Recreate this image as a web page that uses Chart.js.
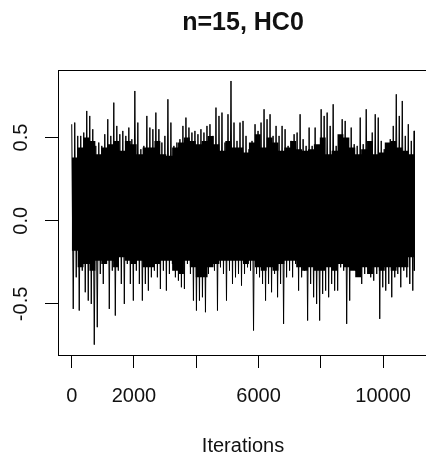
<!DOCTYPE html>
<html>
<head>
<meta charset="utf-8">
<script src="https://cdn.jsdelivr.net/npm/chart.js@4/dist/chart.umd.min.js"></script>
<style>
  html, body { margin: 0; padding: 0; background: #fff; overflow: hidden; }
  #wrap { width: 440px; height: 458px; }
</style>
</head>
<body>
<div id="wrap"><canvas id="traceChart" width="440" height="458"></canvas></div>
<script>
// Trace plot (11000 iterations) - extremes read per ~96-iteration column
const chartTitle = 'n=15, HC0';
const xTitle = 'Iterations';
const nIter = 11000;

const upperPeaks = [
    0.58, 0.59, 0.51, 0.51, 0.53, 0.66, 0.63, 0.55, 0.45, 0.47, 0.45, 0.52, 0.61, 0.51, 0.71, 0.57, 0.52, 0.54, 0.51, 0.56, 0.49, 0.78, 0.59, 0.43, 0.45, 0.63, 0.56, 0.55,
    0.65, 0.55, 0.47, 0.51, 0.73, 0.59, 0.45, 0.47, 0.49, 0.57, 0.62, 0.56, 0.53, 0.54, 0.52, 0.55, 0.53, 0.57, 0.58, 0.51, 0.68, 0.63, 0.65, 0.47, 0.64, 0.84, 0.59, 0.48, 0.59, 0.60,
    0.51, 0.43, 0.48, 0.58, 0.54, 0.59, 0.67, 0.61, 0.64, 0.51, 0.57, 0.51, 0.57, 0.55, 0.45, 0.48, 0.52, 0.53, 0.64, 0.49, 0.45, 0.56, 0.45, 0.56, 0.45, 0.67, 0.63, 0.65, 0.57,
    0.70, 0.45, 0.49, 0.61, 0.60, 0.47, 0.56, 0.46, 0.45, 0.62, 0.46, 0.67, 0.45, 0.53, 0.64, 0.62, 0.48, 0.43, 0.43, 0.49, 0.57, 0.76, 0.63, 0.72, 0.51, 0.58, 0.48, 0.54
];
const lowerPeaks = [
    -0.53, -0.34, -0.54, -0.30, -0.43, -0.48, -0.50, -0.745, -0.64, -0.32, -0.38, -0.26, -0.53, -0.30, -0.57, -0.30, -0.38, -0.50, -0.26, -0.38, -0.48, -0.30, -0.38, -0.48, -0.38, -0.42, -0.34, -0.30,
    -0.34, -0.41, -0.30, -0.42, -0.32, -0.26, -0.34, -0.36, -0.40, -0.41, -0.26, -0.32, -0.48, -0.54, -0.48, -0.46, -0.55, -0.32, -0.26, -0.30, -0.54, -0.28, -0.32, -0.48, -0.30, -0.38, -0.34, -0.32, -0.39, -0.32,
    -0.28, -0.30, -0.66, -0.32, -0.34, -0.38, -0.48, -0.38, -0.43, -0.32, -0.46, -0.38, -0.62, -0.34, -0.30, -0.34, -0.26, -0.42, -0.34, -0.30, -0.60, -0.38, -0.46, -0.50, -0.60, -0.44, -0.42, -0.46, -0.38,
    -0.42, -0.42, -0.28, -0.30, -0.62, -0.48, -0.28, -0.30, -0.30, -0.38, -0.32, -0.26, -0.34, -0.36, -0.32, -0.59, -0.40, -0.42, -0.38, -0.46, -0.34, -0.32, -0.40, -0.30, -0.34, -0.38, -0.42, -0.30
];
// solid skyline of the band, one value per ~190 iterations
const coreTop = [
    0.38, 0.44, 0.50, 0.48, 0.40, 0.44, 0.46, 0.48, 0.42, 0.48, 0.46, 0.40, 0.44, 0.44,
    0.48, 0.40, 0.39, 0.44, 0.47, 0.50, 0.48, 0.46, 0.48, 0.51, 0.46, 0.42, 0.48, 0.44, 0.44,
    0.41, 0.47, 0.52, 0.44, 0.50, 0.47, 0.42, 0.44, 0.48, 0.43, 0.42, 0.43, 0.46, 0.50,
    0.40, 0.42, 0.52, 0.50, 0.44, 0.40, 0.43, 0.48, 0.40, 0.41, 0.47, 0.48, 0.44, 0.42, 0.40
];
const coreBottom = [
    -0.18, -0.28, -0.26, -0.30, -0.24, -0.26, -0.24, -0.28, -0.22, -0.24, -0.26, -0.24, -0.28, -0.28,
    -0.26, -0.24, -0.24, -0.30, -0.32, -0.24, -0.28, -0.34, -0.34, -0.28, -0.26, -0.24, -0.24, -0.24, -0.24,
    -0.26, -0.24, -0.28, -0.30, -0.28, -0.30, -0.26, -0.24, -0.24, -0.28, -0.30, -0.28, -0.30, -0.30,
    -0.28, -0.30, -0.26, -0.28, -0.30, -0.34, -0.28, -0.32, -0.28, -0.30, -0.28, -0.30, -0.28, -0.28, -0.22
];

const xTickValues = [0, 2000, 4000, 6000, 8000, 10000];
const xTickLabels = ['0', '2000', '', '6000', '', '10000'];
const yTickValues = [-0.5, 0, 0.5];
const yTickLabels = ['-0.5', '0.0', '0.5'];

// build points
const step = (nIter - 1) / (upperPeaks.length - 1);
const tracePoints = [];
upperPeaks.forEach((v, i) => {
    const it = 1 + i * step;
    tracePoints.push({ x: it, y: v });
    tracePoints.push({ x: Math.min(nIter, it + step / 2), y: lowerPeaks[i] });
});
const coreStep = (nIter - 1) / coreTop.length;
function stepPoints(arr) {
    const pts = arr.map((v, i) => ({ x: 1 + i * coreStep, y: v }));
    pts.push({ x: nIter, y: arr[arr.length - 1] });
    return pts;
}
const coreTopPts = stepPoints(coreTop);
const coreBotPts = stepPoints(coreBottom);

const FONT = '"Liberation Sans", Arial, sans-serif';

// R style box, labels and titles
const rStylePlugin = {
    id: 'rStyle',
    afterDraw(chart) {
        const ctx = chart.ctx;
        const area = chart.chartArea;
        const xs = chart.scales.x;
        const ys = chart.scales.y;
        ctx.save();
        ctx.strokeStyle = '#000';
        ctx.lineWidth = 1;
        ctx.strokeRect(Math.round(area.left) + 0.5, Math.round(area.top) + 0.5,
            Math.round(area.right - area.left), Math.round(area.bottom - area.top));

        ctx.fillStyle = '#111';
        ctx.font = '20px ' + FONT;
        ctx.textAlign = 'center';
        ctx.textBaseline = 'alphabetic';
        xTickValues.forEach((v, i) => {
            if (xTickLabels[i]) ctx.fillText(xTickLabels[i], xs.getPixelForValue(v), 402);
        });
        yTickValues.forEach((v, i) => {
            ctx.save();
            ctx.translate(27, ys.getPixelForValue(v));
            ctx.rotate(-Math.PI / 2);
            ctx.fillText(yTickLabels[i], 0, 0);
            ctx.restore();
        });
        const cx = (area.left + area.right) / 2;
        ctx.fillText(xTitle, cx, 452);
        ctx.font = 'bold 25px ' + FONT;
        ctx.fillText(chartTitle, cx, 30);
        ctx.restore();
    }
};

const ctx = document.getElementById('traceChart').getContext('2d');
new Chart(ctx, {
    type: 'line',
    data: {
        datasets: [
            {
                data: tracePoints,
                borderColor: '#000',
                borderWidth: 1,
                pointRadius: 0,
                tension: 0,
                fill: false,
                order: 0
            },
            {
                data: coreTopPts,
                stepped: 'before',
                borderWidth: 0,
                borderColor: 'rgba(0,0,0,0)',
                backgroundColor: '#000',
                pointRadius: 0,
                fill: '+1',
                order: 1
            },
            {
                data: coreBotPts,
                stepped: 'before',
                borderWidth: 0,
                borderColor: 'rgba(0,0,0,0)',
                pointRadius: 0,
                fill: false,
                order: 2
            }
        ]
    },
    options: {
        responsive: false,
        devicePixelRatio: 1,
        animation: false,
        layout: { padding: { top: 70, right: 12, left: 0, bottom: 0 } },
        plugins: {
            legend: { display: false },
            tooltip: { enabled: false },
            filler: { propagate: false }
        },
        scales: {
            x: {
                type: 'linear',
                min: -440,
                max: 11440,
                border: { display: false },
                grid: { drawOnChartArea: false, drawTicks: true, tickLength: 13, color: '#000', lineWidth: 1 },
                ticks: { display: false },
                afterBuildTicks: (scale) => { scale.ticks = xTickValues.map(v => ({ value: v })); },
                afterFit: (scale) => { scale.height = 103; }
            },
            y: {
                type: 'linear',
                min: -0.807,
                max: 0.906,
                border: { display: false },
                grid: { drawOnChartArea: false, drawTicks: true, tickLength: 13, color: '#000', lineWidth: 1 },
                ticks: { display: false },
                afterBuildTicks: (scale) => { scale.ticks = yTickValues.map(v => ({ value: v })); },
                afterFit: (scale) => { scale.width = 58; }
            }
        }
    },
    plugins: [rStylePlugin]
});
</script>
</body>
</html>
